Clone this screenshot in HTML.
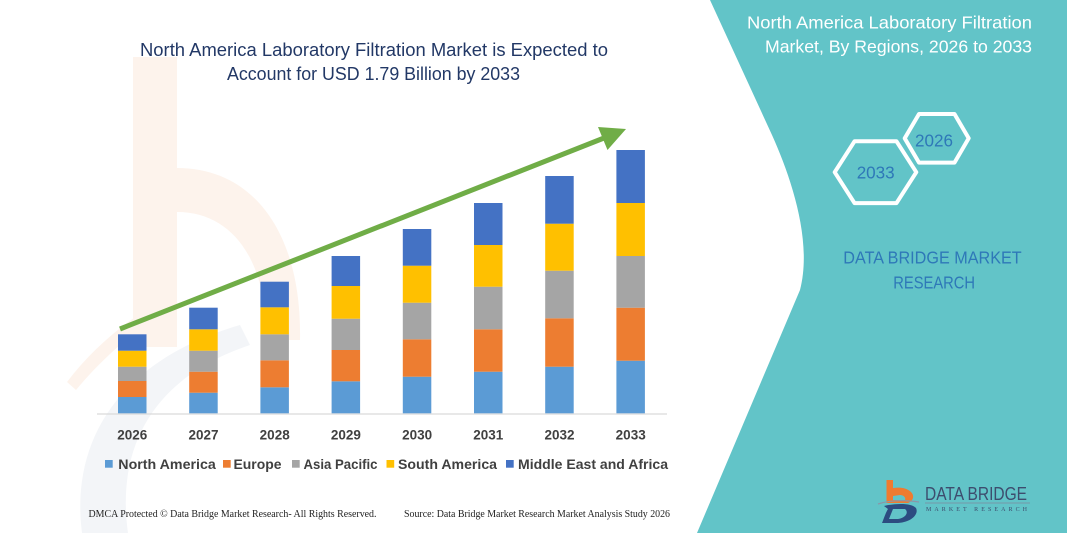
<!DOCTYPE html>
<html>
<head>
<meta charset="utf-8">
<style>
  html,body{margin:0;padding:0;background:#ffffff;}
  body{width:1067px;height:533px;overflow:hidden;}
  svg{display:block;}
</style>
</head>
<body>
<svg width="1067" height="533" viewBox="0 0 1067 533" xmlns="http://www.w3.org/2000/svg">
  <rect x="0" y="0" width="1067" height="533" fill="#ffffff"/>

  <!-- faint watermark hints -->
  <rect x="133" y="57" width="44" height="290" fill="#fdf3ec"/>
  <path d="M177,168 C255,168 302,235 300,340 L266,340 C268,265 235,212 177,212 Z" fill="#fdf3ec"/>
  <path d="M67,382 C95,345 130,318 165,298 L172,306 C138,328 104,356 76,390 Z" fill="#fdf3ec"/>
  <path d="M82,533 C70,440 120,360 240,325 L250,345 C160,375 115,440 128,533 Z" fill="#f3f5f8"/>

  <!-- teal panel -->
  <path d="M710,0 L772,135 C790,175 813,240 800,290 L697,533 L1067,533 L1067,0 Z" fill="#62c4c8"/>

  <!-- title -->
  <g font-family="'Liberation Sans', sans-serif" font-size="18" fill="#223866">
    <text x="140" y="56" textLength="468" lengthAdjust="spacingAndGlyphs">North America Laboratory Filtration Market is Expected to</text>
    <text x="227" y="80" textLength="293" lengthAdjust="spacingAndGlyphs">Account for USD 1.79 Billion by 2033</text>
  </g>

  <!-- axis line -->
  <line x1="97" y1="414" x2="667" y2="414" stroke="#d9d9d9" stroke-width="1.2"/>

  <!-- bars -->
  <g>
    <!-- 2026 -->
    <rect x="118" y="397" width="28.5" height="16.3" fill="#5b9bd5"/>
    <rect x="118" y="381" width="28.5" height="16" fill="#ed7d31"/>
    <rect x="118" y="366.7" width="28.5" height="14.3" fill="#a5a5a5"/>
    <rect x="118" y="350.7" width="28.5" height="16" fill="#ffc000"/>
    <rect x="118" y="334.3" width="28.5" height="16.4" fill="#4472c4"/>
    <!-- 2027 -->
    <rect x="189.2" y="392.7" width="28.5" height="20.6" fill="#5b9bd5"/>
    <rect x="189.2" y="371.7" width="28.5" height="21" fill="#ed7d31"/>
    <rect x="189.2" y="350.7" width="28.5" height="21" fill="#a5a5a5"/>
    <rect x="189.2" y="329.3" width="28.5" height="21.4" fill="#ffc000"/>
    <rect x="189.2" y="307.7" width="28.5" height="21.6" fill="#4472c4"/>
    <!-- 2028 -->
    <rect x="260.4" y="387.3" width="28.5" height="26" fill="#5b9bd5"/>
    <rect x="260.4" y="360.3" width="28.5" height="27" fill="#ed7d31"/>
    <rect x="260.4" y="334.3" width="28.5" height="26" fill="#a5a5a5"/>
    <rect x="260.4" y="307.3" width="28.5" height="27" fill="#ffc000"/>
    <rect x="260.4" y="281.7" width="28.5" height="25.6" fill="#4472c4"/>
    <!-- 2029 -->
    <rect x="331.6" y="381.3" width="28.5" height="32" fill="#5b9bd5"/>
    <rect x="331.6" y="350" width="28.5" height="31.3" fill="#ed7d31"/>
    <rect x="331.6" y="318.7" width="28.5" height="31.3" fill="#a5a5a5"/>
    <rect x="331.6" y="286" width="28.5" height="32.7" fill="#ffc000"/>
    <rect x="331.6" y="256" width="28.5" height="30" fill="#4472c4"/>
    <!-- 2030 -->
    <rect x="402.8" y="376.7" width="28.5" height="36.6" fill="#5b9bd5"/>
    <rect x="402.8" y="339.3" width="28.5" height="37.4" fill="#ed7d31"/>
    <rect x="402.8" y="302.7" width="28.5" height="36.6" fill="#a5a5a5"/>
    <rect x="402.8" y="265.7" width="28.5" height="37" fill="#ffc000"/>
    <rect x="402.8" y="229" width="28.5" height="36.7" fill="#4472c4"/>
    <!-- 2031 -->
    <rect x="474" y="371.7" width="28.5" height="41.6" fill="#5b9bd5"/>
    <rect x="474" y="329.3" width="28.5" height="42.4" fill="#ed7d31"/>
    <rect x="474" y="286.7" width="28.5" height="42.6" fill="#a5a5a5"/>
    <rect x="474" y="245" width="28.5" height="41.7" fill="#ffc000"/>
    <rect x="474" y="203" width="28.5" height="42" fill="#4472c4"/>
    <!-- 2032 -->
    <rect x="545.2" y="366.7" width="28.5" height="46.6" fill="#5b9bd5"/>
    <rect x="545.2" y="318.3" width="28.5" height="48.4" fill="#ed7d31"/>
    <rect x="545.2" y="270.7" width="28.5" height="47.6" fill="#a5a5a5"/>
    <rect x="545.2" y="223.7" width="28.5" height="47" fill="#ffc000"/>
    <rect x="545.2" y="176" width="28.5" height="47.7" fill="#4472c4"/>
    <!-- 2033 -->
    <rect x="616.4" y="360.7" width="28.5" height="52.6" fill="#5b9bd5"/>
    <rect x="616.4" y="307.7" width="28.5" height="53" fill="#ed7d31"/>
    <rect x="616.4" y="256" width="28.5" height="51.7" fill="#a5a5a5"/>
    <rect x="616.4" y="203" width="28.5" height="53" fill="#ffc000"/>
    <rect x="616.4" y="150" width="28.5" height="53" fill="#4472c4"/>
  </g>

  <!-- green arrow -->
  <line x1="120" y1="329" x2="604" y2="138" stroke="#70ad47" stroke-width="5"/>
  <polygon points="626,129 598,127 607.5,150" fill="#70ad47"/>

  <!-- year labels -->
  <g font-family="'Liberation Sans', sans-serif" font-size="13.5" font-weight="bold" fill="#404040" text-anchor="middle">
    <text x="132.3" y="439.5">2026</text>
    <text x="203.5" y="439.5">2027</text>
    <text x="274.7" y="439.5">2028</text>
    <text x="345.9" y="439.5">2029</text>
    <text x="417.1" y="439.5">2030</text>
    <text x="488.3" y="439.5">2031</text>
    <text x="559.5" y="439.5">2032</text>
    <text x="630.7" y="439.5">2033</text>
  </g>

  <!-- legend -->
  <g font-family="'Liberation Sans', sans-serif" font-size="14" font-weight="bold" fill="#404040">
    <rect x="105" y="460" width="7.7" height="7.7" fill="#5b9bd5"/>
    <text x="118.3" y="469" textLength="97.5" lengthAdjust="spacingAndGlyphs">North America</text>
    <rect x="223" y="460" width="7.7" height="7.7" fill="#ed7d31"/>
    <text x="233.5" y="469" textLength="48" lengthAdjust="spacingAndGlyphs">Europe</text>
    <rect x="292" y="460" width="7.7" height="7.7" fill="#a5a5a5"/>
    <text x="303.5" y="469" textLength="74" lengthAdjust="spacingAndGlyphs">Asia Pacific</text>
    <rect x="386.5" y="460" width="7.7" height="7.7" fill="#ffc000"/>
    <text x="398" y="469" textLength="99" lengthAdjust="spacingAndGlyphs">South America</text>
    <rect x="506" y="460" width="7.7" height="7.7" fill="#4472c4"/>
    <text x="518" y="469" textLength="150" lengthAdjust="spacingAndGlyphs">Middle East and Africa</text>
  </g>

  <!-- footer -->
  <g font-family="'Liberation Serif', serif" font-size="10" fill="#222222">
    <text x="88.5" y="517" textLength="288" lengthAdjust="spacingAndGlyphs">DMCA Protected © Data Bridge Market Research-  All Rights Reserved.</text>
    <text x="404" y="517" textLength="266" lengthAdjust="spacingAndGlyphs">Source: Data Bridge Market Research  Market Analysis Study 2026</text>
  </g>

  <!-- right panel title -->
  <g font-family="'Liberation Sans', sans-serif" font-size="17.5" fill="#ffffff">
    <text x="747" y="28.3" textLength="285" lengthAdjust="spacingAndGlyphs">North America Laboratory Filtration</text>
    <text x="765" y="52.7" textLength="267" lengthAdjust="spacingAndGlyphs">Market, By Regions, 2026 to 2033</text>
  </g>

  <!-- hexagons -->
  <g fill="none" stroke="#ffffff" stroke-width="4" stroke-linejoin="round">
    <polygon points="904.7,138.3 919,114 954.5,114 968.7,138.3 954.5,162.6 919,162.6"/>
    <polygon points="834.7,172.2 854.5,141.3 896.5,141.3 916.3,172.2 896.5,203.1 854.5,203.1"/>
  </g>
  <g font-family="'Liberation Sans', sans-serif" font-size="17.5" fill="#2e78b8">
    <text x="915" y="146.7" textLength="38" lengthAdjust="spacingAndGlyphs">2026</text>
    <text x="856.7" y="178.4" textLength="38" lengthAdjust="spacingAndGlyphs">2033</text>
    <text x="843.3" y="263.3" textLength="178.4" lengthAdjust="spacingAndGlyphs">DATA BRIDGE MARKET</text>
    <text x="893.3" y="288.3" textLength="81.7" lengthAdjust="spacingAndGlyphs">RESEARCH</text>
  </g>

  <!-- logo -->
  <g>
    <rect x="886.5" y="480" width="6.5" height="18" fill="#ee7b30"/>
    <path d="M886.5,490 C893,487 905,486 911,492 C915,496 913,501 908,503 L886.5,503 Z M893,496 L893,500 L905,500 C906,498 904,495 900,495 Z" fill="#ee7b30" fill-rule="evenodd"/>
    <path d="M878,504 C890,500 905,500 919,502" fill="none" stroke="#8a97a8" stroke-width="1.2"/>
    <path d="M884,506 C896,503 912,503 916,508 C919,514 912,522 898,523 L882,523 C884,518 886,512 888,509 Z M893,509 L889,519 L898,519 C906,518 909,512 905,509 Z" fill="#2c4c80" fill-rule="evenodd"/>
    <text x="925" y="500" font-family="'Liberation Sans', sans-serif" font-size="18.5" fill="#3d4d6e" textLength="102" lengthAdjust="spacingAndGlyphs">DATA BRIDGE</text>
    <line x1="925" y1="503" x2="1030" y2="503" stroke="#7c8a9c" stroke-width="0.8"/>
    <text x="926" y="511" font-family="'Liberation Serif', serif" font-size="6" fill="#3d4d6e" textLength="101" lengthAdjust="spacing">MARKET   RESEARCH</text>
  </g>
</svg>
</body>
</html>
